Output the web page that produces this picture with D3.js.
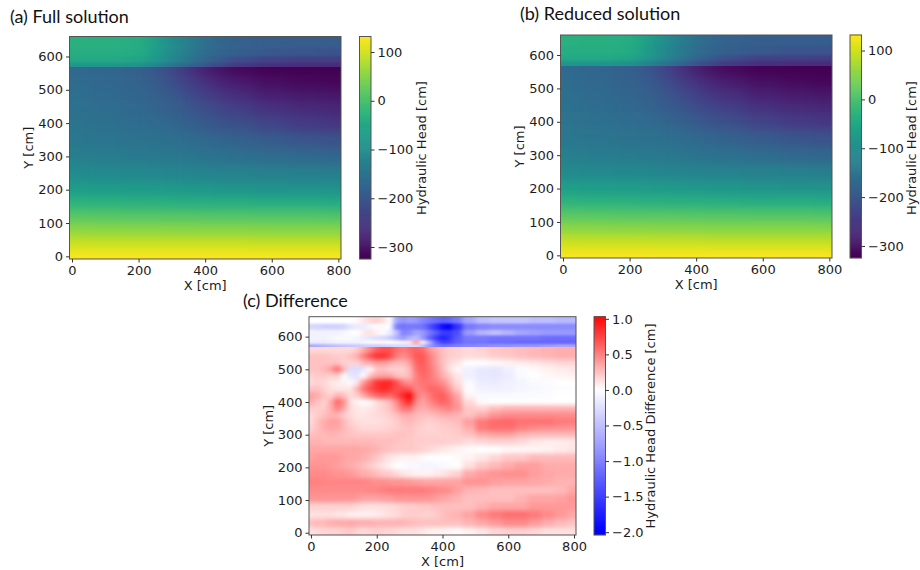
<!DOCTYPE html>
<html lang="en">
<head>
  <meta charset="UTF-8">
  <title>Full vs reduced hydraulic head</title>
  <script src="https://d3js.org/d3.v7.min.js"></script>
  <style>
    body { margin: 0; background: #fff; }
    svg { display: block; }
    text { font-family: "DejaVu Sans", sans-serif; font-size: 13px; fill: #1c1c1c; }
    .title { font-family: Lato, sans-serif; font-size: 18px; fill: #111; }
    .tick line { stroke: #333; }
    .spine { fill: none; stroke: #555; }
  </style>
</head>
<body>
  <svg width="920" height="570"></svg>
  <script>
    // Values (hydraulic head in cm)
    const headX = [0, 100, 200, 250, 300, 350, 400, 450, 500, 600, 700, 800];
    const headY = [645, 610, 590, 575, 555, 520, 480, 440, 400, 350, 300, 250, 200, 160, 120, 80, 40, 10, -5];
    const fullHead = [
      [-35, -36, -40, -68, -100, -132, -160, -175, -185, -190, -192, -192],
      [-41, -41, -44, -73, -105, -136, -166, -180, -190, -200, -205, -207],
      [-50, -50, -55, -82, -112, -145, -178, -200, -220, -235, -240, -242],
      [-85, -85, -90, -115, -145, -175, -205, -230, -250, -262, -266, -268],
      [-170, -175, -185, -200, -225, -255, -283, -303, -315, -322, -325, -325],
      [-165, -172, -180, -193, -212, -236, -258, -278, -290, -306, -313, -316],
      [-160, -168, -175, -185, -198, -216, -236, -252, -264, -282, -291, -295],
      [-155, -163, -170, -177, -187, -200, -217, -230, -240, -258, -268, -274],
      [-150, -157, -163, -168, -174, -185, -197, -207, -215, -232, -245, -252],
      [-143, -148, -152, -155, -158, -165, -172, -178, -184, -195, -204, -210],
      [-130, -135, -138, -140, -142, -146, -150, -154, -158, -165, -171, -175],
      [-107, -110, -112, -114, -116, -118, -120, -122, -124, -128, -130, -132],
      [-72, -74, -76, -78, -79, -81, -83, -85, -87, -90, -92, -94],
      [-30, -32, -33, -34, -35, -36, -37, -38, -39, -41, -42, -43],
      [14, 13, 12, 12, 11, 11, 10, 10, 9, 8, 8, 7],
      [54, 53, 52, 52, 51, 51, 51, 50, 50, 49, 49, 49],
      [93, 92, 92, 92, 91, 91, 91, 91, 91, 90, 90, 90],
      [120, 120, 120, 120, 120, 120, 120, 120, 120, 120, 120, 120],
      [129, 129, 129, 129, 129, 129, 129, 129, 129, 129, 129, 129]
    ];
    const reducedHead = [
      [-35, -36, -40, -67.5, -99.2, -131, -159, -174.3, -184.5, -189.5, -191.5, -191.5],
      [-40.8, -40.8, -44, -72, -104, -134.7, -164.2, -178.7, -189.2, -199.1, -204.1, -206.1],
      [-49.9, -49.9, -54.8, -81.5, -111.4, -144, -176.4, -198.9, -218.9, -233.9, -238.9, -240.9],
      [-84.4, -84.5, -89.6, -114.7, -144.7, -174.2, -203.9, -229, -249, -261.2, -265.2, -267.3],
      [-170.2, -175.2, -185.6, -200.5, -225.5, -255.3, -283.1, -303.1, -315.1, -322.2, -325.2, -325.3],
      [-165.2, -172.1, -180.3, -193.3, -212.5, -236.3, -258, -278, -290, -306, -313.1, -316.2],
      [-160.1, -168.2, -175.5, -185.3, -198.4, -216.4, -236.1, -251.9, -263.9, -282, -291, -295],
      [-155.2, -163.1, -170.8, -177.6, -187.4, -200.4, -217.2, -229.9, -240, -258, -268, -274],
      [-150.2, -157.1, -163.2, -168.5, -174.6, -185.5, -197.5, -207.1, -215, -232.1, -245.1, -252.1],
      [-143.1, -148.1, -152.1, -155.2, -158.2, -165.3, -172.4, -178.2, -184.4, -195.5, -204.4, -210.4],
      [-130.2, -135.2, -138.2, -140.2, -142.1, -146.1, -150.2, -154.2, -158.3, -165.3, -171.3, -175.3],
      [-107.3, -110.3, -112.2, -114.1, -116.1, -118, -120, -122, -124.1, -128.2, -130.2, -132.2],
      [-72.4, -74.3, -76, -78, -79, -81.1, -83.2, -85.3, -87.3, -90.3, -92.3, -94.3],
      [-30.4, -32.4, -33.4, -34.3, -35.3, -36.3, -37.3, -38.3, -39.3, -41.3, -42.3, -43.3],
      [13.6, 12.6, 11.6, 11.6, 10.6, 10.6, 9.7, 9.8, 8.8, 7.8, 7.7, 6.7],
      [53.9, 52.9, 51.9, 51.9, 50.8, 50.8, 50.8, 49.7, 49.6, 48.6, 48.6, 48.6],
      [92.8, 91.8, 91.8, 91.8, 90.8, 90.8, 90.8, 90.7, 90.7, 89.6, 89.7, 89.8],
      [119.9, 119.9, 119.9, 119.9, 119.9, 119.9, 120, 120, 119.9, 119.9, 119.9, 119.9],
      [129, 129, 129, 129, 129, 129, 129, 129, 129, 129, 129, 129]
    ];

    // Difference field (cm)
    const diffX = [0, 20, 40, 60, 80, 100, 120, 140, 160, 180, 200, 220, 240, 260, 280, 300, 320, 340, 360, 380, 400, 420, 440, 480, 520, 560, 600, 640, 680, 720, 760, 800];
    const diffY = [650, 630, 612, 595, 582, 572, 560, 540, 520, 500, 480, 460, 440, 420, 400, 380, 360, 340, 320, 300, 280, 255, 230, 205, 180, 155, 130, 105, 80, 55, 30, 5];
    const diffHead = [
      [0, 0, 0, 0, 0, 0, 0, .02, .1, .15, .18, .12, 0, -.7, -.85, -.75, -.8, -.95, -1.05, -1.15, -1.25, -1.2, -1.05, -.7, -.5, -.45, -.45, -.45, -.5, -.5, -.55, -.55],
      [-.3, -.32, -.35, -.35, -.35, -.32, -.2, -.15, -.15, -.08, .02, .02, 0, -1, -1.1, -1.05, -1.05, -1.1, -1.35, -1.6, -1.9, -2, -1.6, -1.05, -.95, -.9, -.9, -.9, -.9, -.9, -.9, -.9],
      [-.1, -.1, -.1, -.1, -.1, -.08, -.02, 0, .08, .12, .05, -.02, -.15, -.5, -1, -.9, -.7, -.8, -1.05, -1.3, -1.55, -1.55, -1.4, -.8, -.6, -.5, -.6, -.7, -.75, -.8, -.8, -.8],
      [-.1, -.1, -.1, -.08, -.05, -.05, -.05, -.08, -.15, -.2, -.25, -.3, -.4, -.6, -.8, -.6, -.5, -.8, -1.2, -1.5, -1.75, -1.6, -1.3, -1.05, -1.05, -1.1, -1.1, -1.1, -1.1, -1.15, -1.15, -1.15],
      [-.15, -.15, -.15, -.12, -.1, -.1, -.1, -.1, -.08, -.02, .02, .02, 0, -.05, -.1, .1, .4, .05, -.6, -1.2, -1.5, -1.45, -1.25, -1.1, -1.1, -1.15, -1.15, -1.2, -1.2, -1.2, -1.2, -1.2],
      [-.7, -.65, -.6, -.55, -.5, -.48, -.45, -.42, -.4, -.4, -.4, -.38, -.35, -.32, -.3, -.3, -.3, -.5, -.8, -1, -1.1, -1.05, -1, -.95, -.9, -.85, -.85, -.8, -.8, -.75, -.7, -.7],
      [.15, .15, .15, .15, .15, .15, .15, .2, .32, .48, .62, .68, .68, .58, .52, .58, .62, .58, .42, .32, .25, .2, .18, .15, .18, .22, .24, .26, .28, .3, .32, .32],
      [.24, .24, .24, .22, .2, .2, .24, .33, .52, .68, .82, .82, .72, .52, .44, .52, .66, .66, .52, .38, .26, .2, .18, .14, .15, .2, .22, .25, .28, .3, .32, .32],
      [.24, .24, .24, .24, .24, .18, .18, .18, .28, .33, .38, .38, .33, .28, .28, .38, .6, .66, .52, .38, .25, .15, .1, 0, 0, .02, .05, .08, .1, .13, .16, .16],
      [.24, .24, .28, .38, .58, .3, -.25, -.28, -.2, .02, .22, .24, .18, .18, .18, .28, .56, .62, .56, .42, .28, .12, .03, -.12, -.18, -.2, -.12, -.02, .02, .05, .08, .1],
      [.18, .2, .22, .18, .2, 0, -.2, -.22, 0, .25, .35, .36, .36, .26, .22, .28, .5, .6, .55, .45, .32, .22, .1, -.12, -.18, -.2, -.15, -.05, 0, .03, .04, .06],
      [.15, .18, .15, .1, .08, .05, -.02, .1, .4, .6, .8, .85, .85, .7, .5, .42, .5, .55, .55, .5, .45, .3, .14, -.05, -.15, -.15, -.12, -.08, -.05, -.03, 0, 0],
      [.24, .24, .18, .12, .1, .1, .1, .3, .55, .7, .8, .85, .8, .7, .7, .65, .48, .52, .6, .6, .55, .42, .22, -.02, -.1, -.12, -.1, -.08, -.06, -.04, -.02, -.02],
      [.38, .33, .24, .18, .3, .25, .15, .2, .35, .5, .6, .65, .6, .7, .85, 1, .55, .42, .52, .62, .65, .52, .35, .04, -.05, -.05, -.05, -.04, -.03, -.02, 0, 0],
      [.33, .24, .18, .32, .6, .45, .12, .04, 0, .03, .12, .18, .28, .46, .7, .85, .46, .36, .46, .56, .62, .56, .4, .15, .02, 0, 0, 0, 0, 0, 0, 0],
      [.2, .2, .2, .32, .5, .35, .14, .1, .08, .1, .14, .18, .24, .38, .55, .55, .36, .32, .36, .42, .46, .5, .42, .22, .18, .26, .3, .3, .3, .3, .3, .3],
      [.15, .2, .25, .3, .3, .2, .15, .1, .1, .12, .14, .16, .2, .25, .32, .32, .28, .25, .25, .28, .32, .32, .3, .24, .32, .42, .46, .46, .46, .46, .46, .46],
      [.15, .25, .32, .38, .38, .28, .18, .14, .12, .12, .12, .14, .15, .2, .25, .28, .24, .2, .18, .2, .22, .24, .26, .38, .52, .58, .6, .56, .56, .56, .52, .52],
      [.18, .25, .32, .35, .34, .28, .22, .18, .15, .15, .15, .16, .18, .2, .22, .25, .2, .18, .16, .18, .2, .2, .22, .32, .52, .56, .56, .5, .46, .44, .44, .42],
      [.25, .27, .27, .3, .28, .26, .24, .22, .22, .22, .22, .22, .22, .24, .25, .22, .2, .18, .18, .18, .18, .18, .2, .24, .32, .36, .36, .3, .27, .27, .27, .27],
      [.3, .3, .28, .28, .28, .28, .28, .28, .28, .28, .26, .26, .26, .24, .22, .22, .2, .2, .2, .2, .2, .18, .18, .14, .16, .18, .18, .15, .1, .08, .08, .1],
      [.35, .35, .35, .35, .35, .35, .35, .35, .34, .32, .3, .26, .24, .22, .22, .22, .2, .18, .15, .12, .1, .08, .05, .02, 0, 0, .03, .04, .04, .05, .08, .1],
      [.37, .4, .4, .4, .4, .36, .34, .34, .32, .28, .22, .16, .1, .08, .05, .05, .05, .02, 0, 0, 0, 0, .02, .05, .1, .16, .22, .22, .27, .27, .27, .27],
      [.42, .42, .42, .4, .38, .36, .33, .3, .26, .2, .15, .1, .05, 0, -.02, -.05, -.05, -.08, -.08, -.06, -.05, -.02, 0, .12, .22, .28, .33, .38, .38, .33, .33, .33],
      [.46, .46, .46, .44, .42, .42, .4, .36, .32, .3, .26, .22, .2, .15, .1, .08, .05, .05, .05, .08, .1, .14, .18, .33, .38, .42, .44, .44, .38, .35, .33, .33],
      [.5, .5, .48, .48, .48, .48, .48, .48, .48, .46, .44, .44, .42, .42, .42, .4, .38, .36, .36, .36, .36, .36, .36, .42, .42, .38, .36, .36, .35, .33, .3, .3],
      [.46, .46, .46, .46, .46, .46, .46, .46, .46, .48, .48, .5, .52, .52, .52, .52, .52, .52, .5, .48, .46, .44, .38, .3, .28, .25, .25, .25, .25, .25, .28, .35],
      [.42, .42, .42, .42, .42, .42, .42, .4, .36, .36, .36, .38, .38, .42, .42, .42, .42, .42, .42, .38, .36, .33, .3, .25, .25, .25, .25, .3, .35, .35, .37, .42],
      [.18, .18, .18, .18, .18, .18, .18, .15, .12, .12, .12, .12, .14, .16, .18, .2, .2, .22, .22, .25, .25, .25, .25, .25, .3, .35, .35, .35, .4, .4, .4, .4],
      [.12, .12, .12, .12, .1, .1, .06, .06, .06, .06, .08, .1, .12, .14, .18, .2, .2, .18, .18, .2, .25, .28, .3, .36, .46, .52, .56, .56, .52, .46, .4, .34],
      [.25, .28, .28, .32, .33, .33, .35, .33, .32, .32, .3, .3, .3, .3, .3, .28, .25, .25, .25, .25, .25, .25, .25, .3, .34, .4, .46, .46, .4, .33, .28, .24],
      [.12, .14, .17, .17, .17, .2, .22, .17, .14, .16, .18, .17, .17, .14, .12, .12, .12, .1, .06, .06, .05, .03, .02, .06, .1, .16, .18, .18, .16, .12, .12, .12]
    ];

    const xTicks = [0, 200, 400, 600, 800];
    const yTicks = [0, 100, 200, 300, 400, 500, 600];
    const headTicks = [100, 0, -100, -200, -300];
    const diffTicks = [1, 0.5, 0, -0.5, -1, -1.5, -2];

    const svg = d3.select("svg");
    const defs = svg.append("defs");

    const headColor = d3.scaleSequential(d3.interpolateViridis).domain([-324.6, 131.8]);
    const diffColor = d3.scaleLinear().domain([-2, 0, 1]).range(["#0000ff", "#ffffff", "#ff0000"]).clamp(true);

    // the sharp layer boundary in the soil column sits here
    const layerY = 567;

    function blurFilter(id, sx, sy) {
      defs.append("filter").attr("id", id)
        .attr("filterUnits", "userSpaceOnUse")
        .attr("x", 0).attr("y", 0).attr("width", 920).attr("height", 570)
        .attr("color-interpolation-filters", "sRGB")
        .append("feGaussianBlur").attr("stdDeviation", sx + " " + sy);
    }
    blurFilter("blurHead", 8, 5);
    blurFilter("blurHeadTop", 8, 1.2);
    blurFilter("blurDiff", 2.6, 2);
    blurFilter("blurDiffTop", 2.4, 0.9);

    // cell edges are the midpoints between neighbours, outer ones run past the frame
    function edges(centers, scale) {
      const px = centers.map(scale);
      const dir = Math.sign(px[1] - px[0]);
      const out = [px[0] - 40 * dir];
      for (let i = 1; i < px.length; i++) out.push((px[i - 1] + px[i]) / 2);
      out.push(px[px.length - 1] + 40 * dir);
      return out;
    }

    let clipCount = 0;
    function drawZone(panel, x, y, colsX, rowsY, values, color, top, filterId) {
      const rowIdx = d3.range(rowsY.length).filter(i => top ? rowsY[i] > layerY : rowsY[i] < layerY);
      const [xMin, xMax] = x.domain();
      const [yMin, yMax] = y.domain();
      const split = Math.round(y(layerY));
      const id = "clip" + (clipCount++);
      defs.append("clipPath").attr("id", id).append("rect")
        .attr("x", x(xMin)).attr("width", x(xMax) - x(xMin))
        .attr("y", top ? y(yMax) : split)
        .attr("height", top ? split - y(yMax) : y(yMin) - split);
      const xe = edges(colsX, x);
      const ye = edges(rowIdx.map(i => rowsY[i]), y);
      const cells = [];
      rowIdx.forEach((r, j) => colsX.forEach((c, i) => {
        cells.push({ i, j, v: values[r][i] });
      }));
      panel.append("g").attr("clip-path", "url(#" + id + ")")
        .append("g").attr("filter", "url(#" + filterId + ")")
        .selectAll("rect").data(cells).join("rect")
          .attr("x", d => xe[d.i])
          .attr("width", d => xe[d.i + 1] - xe[d.i] + 0.6)
          .attr("y", d => ye[d.j])
          .attr("height", d => ye[d.j + 1] - ye[d.j] + 0.6)
          .attr("fill", d => color(d.v));
    }

    function styleAxis(g) {
      g.select(".domain").remove();
      g.selectAll(".tick line").attr("stroke-width", 1);
      g.selectAll(".tick text").style("font-size", "13px").style("font-family", "DejaVu Sans");
    }

    function drawPanel(o) {
      const g = svg.append("g");
      const x = d3.scaleLinear().domain(o.xDomain).range([o.left, o.right]);
      const y = d3.scaleLinear().domain(o.yDomain).range([o.bottom, o.top]);

      drawZone(g, x, y, o.colsX, o.rowsY, o.values, o.color, true, o.topBlur);
      drawZone(g, x, y, o.colsX, o.rowsY, o.values, o.color, false, o.blur);

      g.append("rect").attr("class", "spine")
        .attr("x", o.left).attr("y", o.top)
        .attr("width", o.right - o.left).attr("height", o.bottom - o.top);

      g.append("g").attr("transform", "translate(0," + o.bottom + ")")
        .call(d3.axisBottom(x).tickValues(xTicks).tickSize(3.5).tickPadding(3))
        .call(styleAxis);
      g.append("g").attr("transform", "translate(" + o.left + ",0)")
        .call(d3.axisLeft(y).tickValues(yTicks).tickSize(3.5).tickPadding(3))
        .call(styleAxis);

      g.append("text").attr("text-anchor", "middle")
        .attr("x", (x(0) + x(800)) / 2).attr("y", o.bottom + 31)
        .text("X [cm]");
      g.append("text").attr("text-anchor", "middle")
        .attr("transform", "translate(" + o.yLabelX + "," + (o.top + o.bottom) / 2 + ") rotate(-90)")
        .text("Y [cm]");

      g.append("text").attr("class", "title")
        .attr("x", o.titleX).attr("y", o.titleY).text(o.title);

      // colour bar
      const c = d3.scaleLinear().domain(o.barDomain).range([o.bottom, o.top]);
      const steps = d3.range(o.barDomain[0], o.barDomain[1], (o.barDomain[1] - o.barDomain[0]) / 220);
      g.append("g").selectAll("rect").data(steps).join("rect")
        .attr("x", o.barLeft).attr("width", o.barWidth)
        .attr("y", d => c(d) - 1.5).attr("height", 1.6)
        .attr("fill", d => o.color(d));
      g.append("rect").attr("class", "spine")
        .attr("x", o.barLeft).attr("y", o.top)
        .attr("width", o.barWidth).attr("height", o.bottom - o.top);
      g.append("g").attr("transform", "translate(" + (o.barLeft + o.barWidth) + ",0)")
        .call(d3.axisRight(c).tickValues(o.barTicks).tickFormat(o.barFormat).tickSize(3.5).tickPadding(3))
        .call(styleAxis);
      g.append("text").attr("text-anchor", "middle")
        .attr("transform", "translate(" + o.barLabelX + "," + o.barLabelY + ") rotate(-90)")
        .text(o.barLabel);
    }

    drawPanel({
      title: "(a) Full solution", titleX: 10, titleY: 23,
      left: 69.5, right: 341, top: 36.5, bottom: 259,
      xDomain: [-7.5, 808], yDomain: [-8, 660], yLabelX: 33,
      colsX: headX, rowsY: headY, values: fullHead, color: headColor,
      blur: "blurHead", topBlur: "blurHeadTop",
      barLeft: 359.5, barWidth: 11.5, barDomain: [-324.6, 131.8], barTicks: headTicks, barFormat: d3.format("d"),
      barLabel: "Hydraulic Head [cm]", barLabelX: 426, barLabelY: 148
    });
    drawPanel({
      title: "(b) Reduced solution", titleX: 520, titleY: 20,
      left: 560.5, right: 832, top: 35, bottom: 258,
      xDomain: [-7.5, 808], yDomain: [-8, 660], yLabelX: 524,
      colsX: headX, rowsY: headY, values: reducedHead, color: headColor,
      blur: "blurHead", topBlur: "blurHeadTop",
      barLeft: 850, barWidth: 11.5, barDomain: [-324.6, 131.8], barTicks: headTicks, barFormat: d3.format("d"),
      barLabel: "Hydraulic Head [cm]", barLabelX: 916, barLabelY: 148
    });
    drawPanel({
      title: "(c) Difference", titleX: 243, titleY: 307,
      left: 309, right: 576, top: 316.7, bottom: 535,
      xDomain: [-6, 806], yDomain: [-7, 661], yLabelX: 273,
      colsX: diffX, rowsY: diffY, values: diffHead, color: diffColor,
      blur: "blurDiff", topBlur: "blurDiffTop",
      barLeft: 594, barWidth: 11.5, barDomain: [-2.04, 1.03], barTicks: diffTicks, barFormat: d3.format(".1f"),
      barLabel: "Hydraulic Head Difference [cm]", barLabelX: 655, barLabelY: 426
    });
  </script>
</body>
</html>
